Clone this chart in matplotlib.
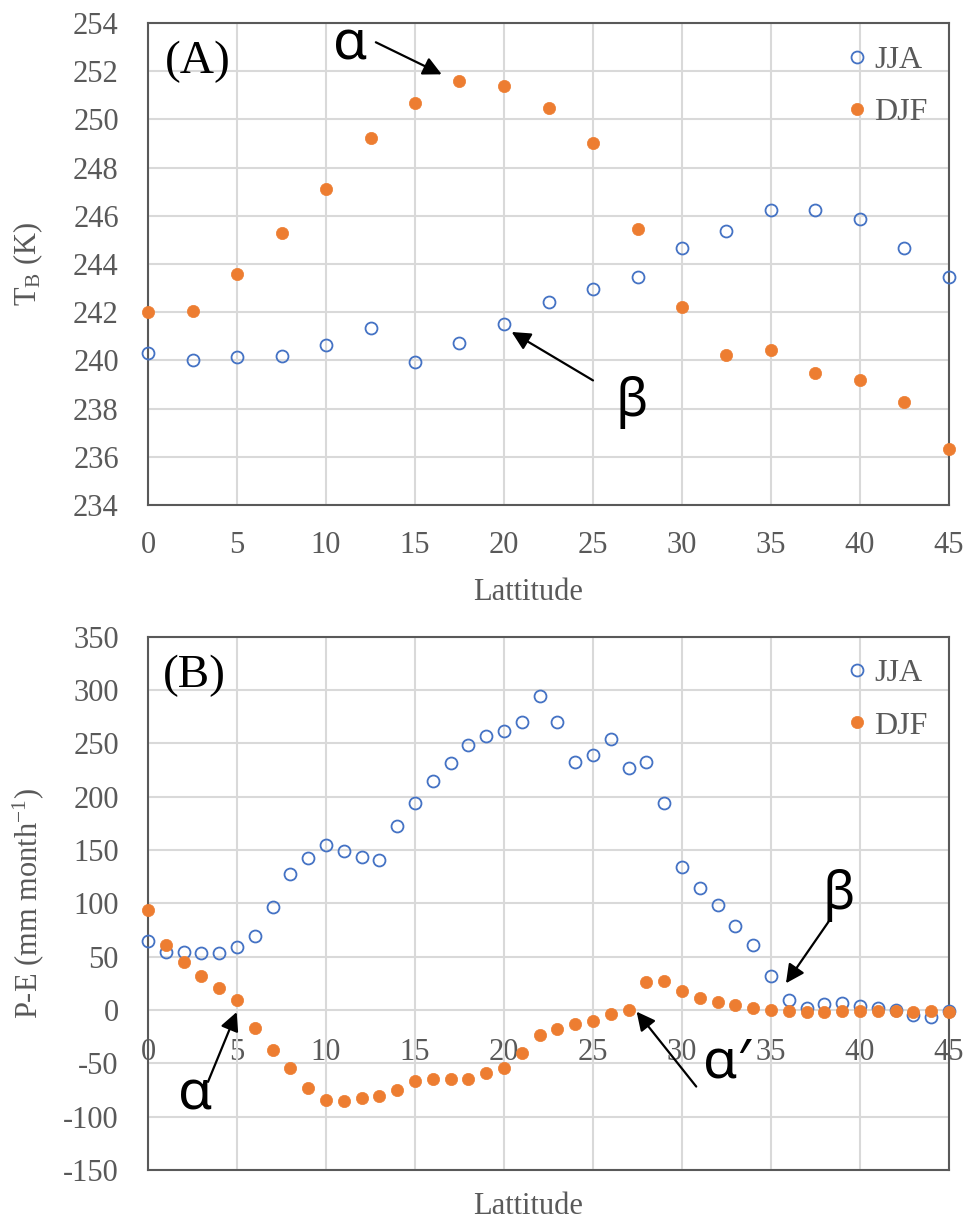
import matplotlib
matplotlib.use("Agg")
import matplotlib.pyplot as plt
import numpy as np

plt.rcParams['font.family'] = ['Liberation Serif', 'DejaVu Serif']
plt.rcParams['mathtext.fontset'] = 'custom'
plt.rcParams['mathtext.rm'] = 'Liberation Serif'
plt.rcParams['mathtext.it'] = 'Liberation Serif:italic'
plt.rcParams['axes.unicode_minus'] = False

# ---------------- data ----------------
lat_a = [0, 2.5, 5, 7.5, 10, 12.5, 15, 17.5, 20, 22.5, 25, 27.5, 30, 32.5, 35, 37.5, 40, 42.5, 45]
tb_jja = [240.29, 240.0, 240.13, 240.2, 240.64, 241.36, 239.92, 240.71, 241.51, 242.44,
          242.95, 243.45, 244.67, 245.37, 246.24, 246.24, 245.88, 244.67, 243.45]
tb_djf = [242.0, 242.07, 243.57, 245.3, 247.1, 249.24, 250.67, 251.61, 251.4, 250.46,
          249.04, 245.44, 242.22, 240.21, 240.42, 239.49, 239.2, 238.27, 236.34]

lat_b = list(range(0, 46))
pe_jja = [64.3, 54.6, 54.6, 53.1, 53.1, 59.3, 69.3, 96.7, 127.3, 142.0,
          154.8, 148.6, 143.6, 140.4, 172.6, 193.8, 214.7, 231.0, 248.7, 256.8,
          261.9, 270.0, 294.0, 270.0, 232.5, 239.1, 253.7, 226.3, 232.5, 193.8,
          133.9, 114.5, 98.3, 79.0, 61.2, 32.1, 9.4, 2.2, 5.3, 6.9,
          3.7, 2.2, 0.0, -4.7, -6.2, -1.0]
pe_djf = [93.6, 61.2, 44.9, 31.8, 20.6, 9.4, -16.5, -37.5, -54.0, -73.4,
          -84.3, -85.8, -82.7, -81.1, -74.9, -66.5, -64.9, -64.9, -64.9, -58.7,
          -54.0, -40.6, -23.1, -18.1, -13.4, -10.3, -3.7, 0.0, 25.9, 27.5,
          17.8, 11.2, 7.8, 4.7, 1.6, 0.0, -0.6, -2.2, -2.2, -0.6,
          -0.6, -0.6, -0.6, -2.2, -0.6, -2.2]

series_names = ['JJA', 'DJF']
xticks = list(range(0, 46, 5))
yticks_a = list(range(234, 255, 2))
yticks_b = list(range(-150, 351, 50))

BLUE = '#4472C4'
ORANGE = '#ED7D31'
GRAY = '#595959'
GRID = '#D9D9D9'
FS = 22

W, H = 970, 1224
fig = plt.figure(figsize=(W / 100, H / 100), dpi=100)

def px_axes(l, t, r, b):
    return fig.add_axes([l / W, 1 - b / H, (r - l) / W, (b - t) / H])

axA = px_axes(148, 23, 949, 505)
axB = px_axes(148, 636.5, 949, 1170)

def style(ax, yticks):
    ax.set_xlim(0, 45)
    ax.set_ylim(yticks[0], yticks[-1])
    ax.set_xticks(xticks)
    ax.set_yticks(yticks)
    ax.grid(True, color=GRID, lw=1.5, zorder=0)
    ax.set_axisbelow(True)
    for s in ax.spines.values():
        s.set_color(GRAY)
        s.set_linewidth(1.5)
    ax.tick_params(axis='both', length=0, labelsize=FS, labelcolor=GRAY)
    ax.tick_params(axis='y', pad=21)
    ax.tick_params(axis='x', pad=19)

def plot_series(ax, x, yj, yd):
    ax.plot(x, yj, 'o', ms=8.6, mfc='none', mec=BLUE, mew=1.3, ls='none',
            label=series_names[0], zorder=3, clip_on=False)
    ax.plot(x, yd, 'o', ms=8.8, mfc=ORANGE, mec=ORANGE, mew=0.5, ls='none',
            label=series_names[1], zorder=4, clip_on=False)

# ---------------- panel A ----------------
style(axA, yticks_a)
plot_series(axA, lat_a, tb_jja, tb_djf)

# ---------------- panel B ----------------
style(axB, yticks_b)
plot_series(axB, lat_b, pe_jja, pe_djf)
axB.tick_params(axis='x', labelbottom=False)
y0, y1 = axB.get_ylim()
sec = axB.secondary_xaxis((0 - y0) / (y1 - y0))
sec.set_xticks(xticks)
sec.spines['bottom'].set_visible(False)
sec.tick_params(length=0, labelsize=FS, labelcolor=GRAY, pad=20)

for ax, top in ((axA, 0.953), (axB, 0.958)):
    ax.legend(loc='upper left', bbox_to_anchor=(0.869, top), frameon=False,
              fontsize=FS + 1, labelcolor=GRAY, handlelength=0.8, handletextpad=0.15,
              borderpad=0, borderaxespad=0, labelspacing=0.72, markerscale=1.0)

# panel labels
axA.text(0.021, 0.92, '(A)', transform=axA.transAxes, fontsize=34,
         ha='left', va='center', color='black')
axB.text(0.019, 0.927, '(B)', transform=axB.transAxes, fontsize=34,
         ha='left', va='center', color='black')

# axis labels
fig.text(28 / W, 1 - 264 / H, r'$\mathrm{T_B}$ (K)', rotation=90, ha='center',
         va='center', fontsize=FS, color=GRAY)
fig.text(28 / W, 1 - 903 / H, r'P-E (mm month$^{\mathrm{-1}}$)', rotation=90,
         ha='center', va='center', fontsize=FS, color=GRAY)
fig.text(528.5 / W, 1 - 592 / H, 'Lattitude', ha='center', va='center',
         fontsize=FS, color=GRAY)
fig.text(528.5 / W, 1 - 1206 / H, 'Lattitude', ha='center', va='center',
         fontsize=FS, color=GRAY)

# annotations
GREEK = ['Noto Sans', 'DejaVu Sans']
arrow = dict(arrowstyle='-|>', mutation_scale=28, lw=1.6, color='black',
             shrinkA=0, shrinkB=0)

axA.text(11.35, 253.1, 'α', fontsize=40, family=GREEK, ha='center', va='center')
axA.annotate('', xy=(16.5, 251.87), xytext=(12.8, 253.2), arrowprops=arrow)
axA.text(27.2, 238.26, 'β', fontsize=38, family=GREEK, ha='center', va='center')
axA.annotate('', xy=(20.43, 241.18), xytext=(25.0, 239.17), arrowprops=arrow)

axB.text(2.64, -80, 'α', fontsize=40, family=GREEK, ha='center', va='center')
axB.annotate('', xy=(4.98, -2), xytext=(3.37, -67.4), arrowprops=arrow)
axB.text(32.5, -50, 'α′', fontsize=40, family=GREEK, ha='center', va='center')
axB.annotate('', xy=(27.45, -1.6), xytext=(30.8, -71.8), arrowprops=arrow)
axB.text(38.8, 107, 'β', fontsize=38, family=GREEK, ha='center', va='center')
axB.annotate('', xy=(35.84, 25), xytext=(38.3, 84.3), arrowprops=arrow)

fig.savefig('out.png', dpi=100)
